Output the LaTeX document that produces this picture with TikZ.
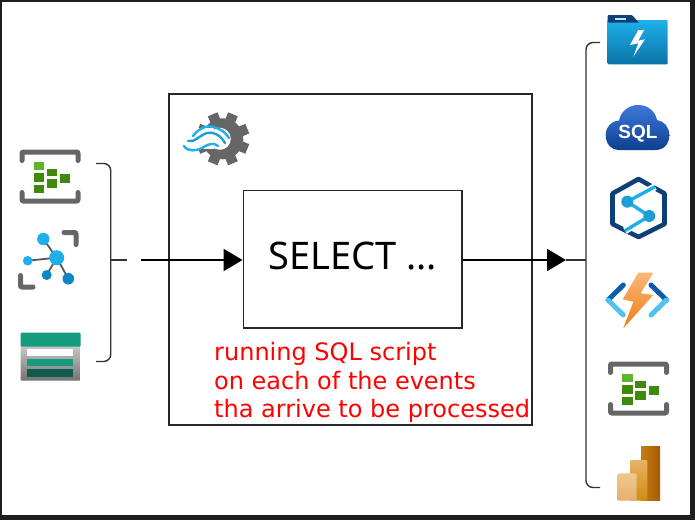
\documentclass[tikz,border=0pt]{standalone}
\usepackage{fontspec}
\setmainfont{DejaVu Sans}
\newfontfamily\queryfont{Noto Sans}
\newfontfamily\sqlfont{Liberation Sans}
\usetikzlibrary{arrows.meta}
\definecolor{framedark}{HTML}{1E1E20}
\definecolor{icongray}{HTML}{666666}
\definecolor{gdark}{HTML}{3E8A0C}
\definecolor{glight}{HTML}{5DB52A}
\definecolor{sky}{HTML}{1FB0EA}
\definecolor{skydark}{HTML}{0C87C4}
\definecolor{navy}{HTML}{0F3F78}
\definecolor{teal}{HTML}{159B7E}
\definecolor{tealdark}{HTML}{0E5A4C}
\definecolor{boltlight}{HTML}{F8B878}
\definecolor{boltdark}{HTML}{F07C14}
\definecolor{chevdark}{HTML}{0B5CAD}
\definecolor{chevlight}{HTML}{4FC3EE}
\definecolor{bibacktop}{HTML}{C87C10}
\definecolor{bibackbot}{HTML}{A85A08}
\definecolor{bimidtop}{HTML}{E6B466}
\definecolor{bimidbot}{HTML}{D08A12}
\definecolor{bifronttop}{HTML}{EFC88E}
\definecolor{bifrontbot}{HTML}{E5B06C}
\definecolor{cloudtop}{HTML}{3F78DC}
\definecolor{cloudbot}{HTML}{0C3F8F}
\tikzset{
  boxline/.style={draw=black!85,line width=1.6pt,fill=none},
  flow/.style={draw=black,line width=2pt,-{Triangle[length=19pt,width=22pt]}},
  bracketline/.style={draw=black!80,line width=1.4pt,rounded corners=7pt},
  stub/.style={draw=black!80,line width=1.4pt},
  note/.style={text=red,font=\fontsize{24}{28.5}\selectfont,align=left,anchor=north west,inner sep=0pt},
  iconbar/.style={draw=icongray,line width=5pt,line cap=round,line join=round,rounded corners=1pt},
  gs/.style={fill=gdark},
  chev/.style={line width=5pt,line cap=round},
}
\newcommand{\eventicon}[2]{%
  \begin{scope}[shift={(#1,#2)}]
    \draw[iconbar] (2,10.5) -- (2,2) -- (58,2) -- (58,10.5);
    \draw[iconbar] (2,42.5) -- (2,51) -- (58,51) -- (58,42.5);
    \fill[glight] (13.5,11.5) rectangle (24,20);
    \fill[gs] (13.5,23) rectangle (24,32);
    \fill[gs] (13.5,34.5) rectangle (24,43);
    \fill[gs] (26.5,18.5) rectangle (37,26);
    \fill[gs] (26.5,28.5) rectangle (37,37.5);
    \fill[gs] (40,23.5) rectangle (50,32.5);
  \end{scope}}
\begin{document}
\begin{tikzpicture}[x=1pt,y=-1pt]
\useasboundingbox (0,0) rectangle (695,520);
\fill[framedark] (0,0) rectangle (695,520);
\fill[white] (2,2) rectangle (690,515);

% boxes
\node[boxline,minimum width=363pt,minimum height=331pt,anchor=north west,inner sep=0pt] (outer) at (168,93) {};
\node[boxline,minimum width=218.5pt,minimum height=137.5pt,anchor=north west,inner sep=0pt,
      font=\queryfont\fontsize{38}{40}\selectfont] (query) at (242.5,189.5) {\raisebox{6pt}{SELECT ...}};
\node[note] (remark) at (214,342.5) {running SQL script\\on each of the events\\tha arrive to be processed};

% brackets and connectors
\coordinate (ltop) at (96,163.5);
\coordinate (lbot) at (96,361.5);
\coordinate (lmid) at (110.7,260);
\coordinate (lend) at (127,260);
\coordinate (instart) at (141,260);
\coordinate (rmid) at (586,260);
\coordinate (outend) at (566,260);
\coordinate (rtop) at (600,42.5);
\coordinate (rbot) at (600,487.5);
\draw[bracketline] (ltop) -- (110.7,163.5) -- (110.7,361.5) -- (lbot);
\draw[stub] (lmid) -- (lend);
\draw[flow] (instart) -- (query.west |- instart);
\draw[flow] (query.east |- outend) -- (outend);
\draw[stub] (outend) -- (rmid);
\draw[bracketline] (rtop) -- (586,42.5) -- (586,487.5) -- (rbot);

% event hub, left
\eventicon{20}{150}

% IoT hub
\draw[iconbar] (64,232.5) -- (76,232.5) -- (76,244.5);
\draw[iconbar] (20.5,275.5) -- (20.5,287) -- (33,287);
\draw[line width=1.8pt,black!65] (56.7,257.7) -- (43.3,239) (56.7,257.7) -- (27.7,260.7) (56.7,257.7) -- (46.7,275) (56.7,257.7) -- (68.3,278.7);
\fill[sky] (56.7,257.7) circle[radius=7.5pt];
\fill[sky] (43.3,239) circle[radius=6.2pt];
\fill[sky] (27.7,260.7) circle[radius=4.8pt];
\fill[skydark] (46.7,275) circle[radius=5pt];
\fill[skydark] (68.3,278.7) circle[radius=5.8pt];

% storage table
\shade[top color=black!20,bottom color=black!55,rounded corners=1pt] (20.7,344) rectangle (80.7,380.7);
\fill[teal,rounded corners=1pt] (20.7,332.7) rectangle (80.7,346.7);
\fill[white] (27.3,349.3) rectangle (73.3,356);
\fill[teal] (27.3,359.3) rectangle (73.3,366);
\fill[tealdark] (27.3,369) rectangle (73.3,376.7);

% stream analytics gear
\begin{scope}[shift={(222.8,138.8)}]
  \foreach \a in {0,45,...,315}{
    \fill[black!60,rotate=\a+22.5] (-5.2,-26.5) rectangle (5.2,-16);
  }
  \fill[black!60] (0,0) circle[radius=20.5pt];
  \fill[white] (-3,0) circle[radius=11pt];
  \fill[white] (-40,-11) rectangle (-9,10);
\end{scope}
\draw[sky,line width=2.4pt,line cap=round] (193,136) .. controls (199,128) and (207,125) .. (214,127) .. controls (221,129) and (226,133) .. (229,138);
\draw[sky!85!navy,line width=2.4pt,line cap=round] (188,141) .. controls (194,143) and (200,135) .. (207,133) .. controls (214,131) and (221,136) .. (225,143);
\draw[sky,line width=2.4pt,line cap=round] (184,146) .. controls (188,152) and (196,151) .. (202,148) .. controls (208,144) and (214,142) .. (218,146);

% Data Lake folder
\shade[top color=sky,bottom color=skydark!85!black,rounded corners=1pt] (607.7,20) rectangle (667.7,64.3);
\fill[navy,rounded corners=1pt] (607.7,15) -- (632,15) -- (639,22.7) -- (607.7,22.7) -- cycle;
\fill[white!70!sky] (615,18) rectangle (626,20);
\fill[white] (638.3,30) -- (630,45) -- (638.3,43.3) -- (633.3,56.7) -- (645,39.3) -- (638.3,40.7) -- (644,30) -- cycle;

% SQL cloud
\shade[top color=cloudtop,bottom color=cloudbot]
 (620,150) .. controls (610,150) and (605.7,143) .. (605.7,135)
 .. controls (605.7,127) and (611,121) .. (619,120.5)
 .. controls (621,111) and (629,105) .. (638,105)
 .. controls (648,105) and (655,111) .. (657,120)
 .. controls (664,121) and (669.3,127) .. (669.3,135)
 .. controls (669.3,144) and (664,150) .. (655,150) -- cycle;
\node[text=white,font=\sqlfont\bfseries\fontsize{19}{20}\selectfont,inner sep=0pt] (sqllabel) at (638,133.5) {SQL};

% Synapse hexagon
\draw[navy,line width=4.6pt,line join=round] (638.5,179) -- (664.5,193.5) -- (664.5,224) -- (638.5,237) -- (612.5,224) -- (612.5,193.5) -- cycle;
\draw[white,line width=7pt] (655,186.7) -- (627.3,201.7) (649.3,216) -- (625,230.7);
\draw[sky,line width=3.4pt] (655,186.7) -- (627.3,201.7) -- (649.3,216) -- (625,230.7);
\fill[sky!90!black] (627.3,201.7) circle[radius=6pt];
\fill[sky!90!black] (649.3,216) circle[radius=6pt];

% Functions
\draw[chev,chevdark] (623.3,285) -- (608,300);
\draw[chev,chevlight] (608,300) -- (623.3,315);
\draw[chev,chevdark] (651,285) -- (666.5,300);
\draw[chev,chevlight] (666.5,300) -- (651,315);
\shade[top color=boltlight,bottom color=boltdark]
 (638.3,272.7) -- (653.3,272.7) -- (640.7,293.3) -- (653.3,295) -- (623.3,328.3) -- (633.3,301.7) -- (622.7,299.3) -- cycle;

% event hub, right
\eventicon{608.5}{362}

% Power BI
\shade[left color=bibacktop,right color=bibackbot] (641,446) rectangle (660,500.7);
\shade[top color=bimidtop,bottom color=bimidbot,rounded corners=1pt] (630,460) rectangle (647.3,500.7);
\shade[top color=bifronttop,bottom color=bifrontbot,rounded corners=1pt] (617.7,473.3) rectangle (636.7,500.7);
\end{tikzpicture}
\end{document}
